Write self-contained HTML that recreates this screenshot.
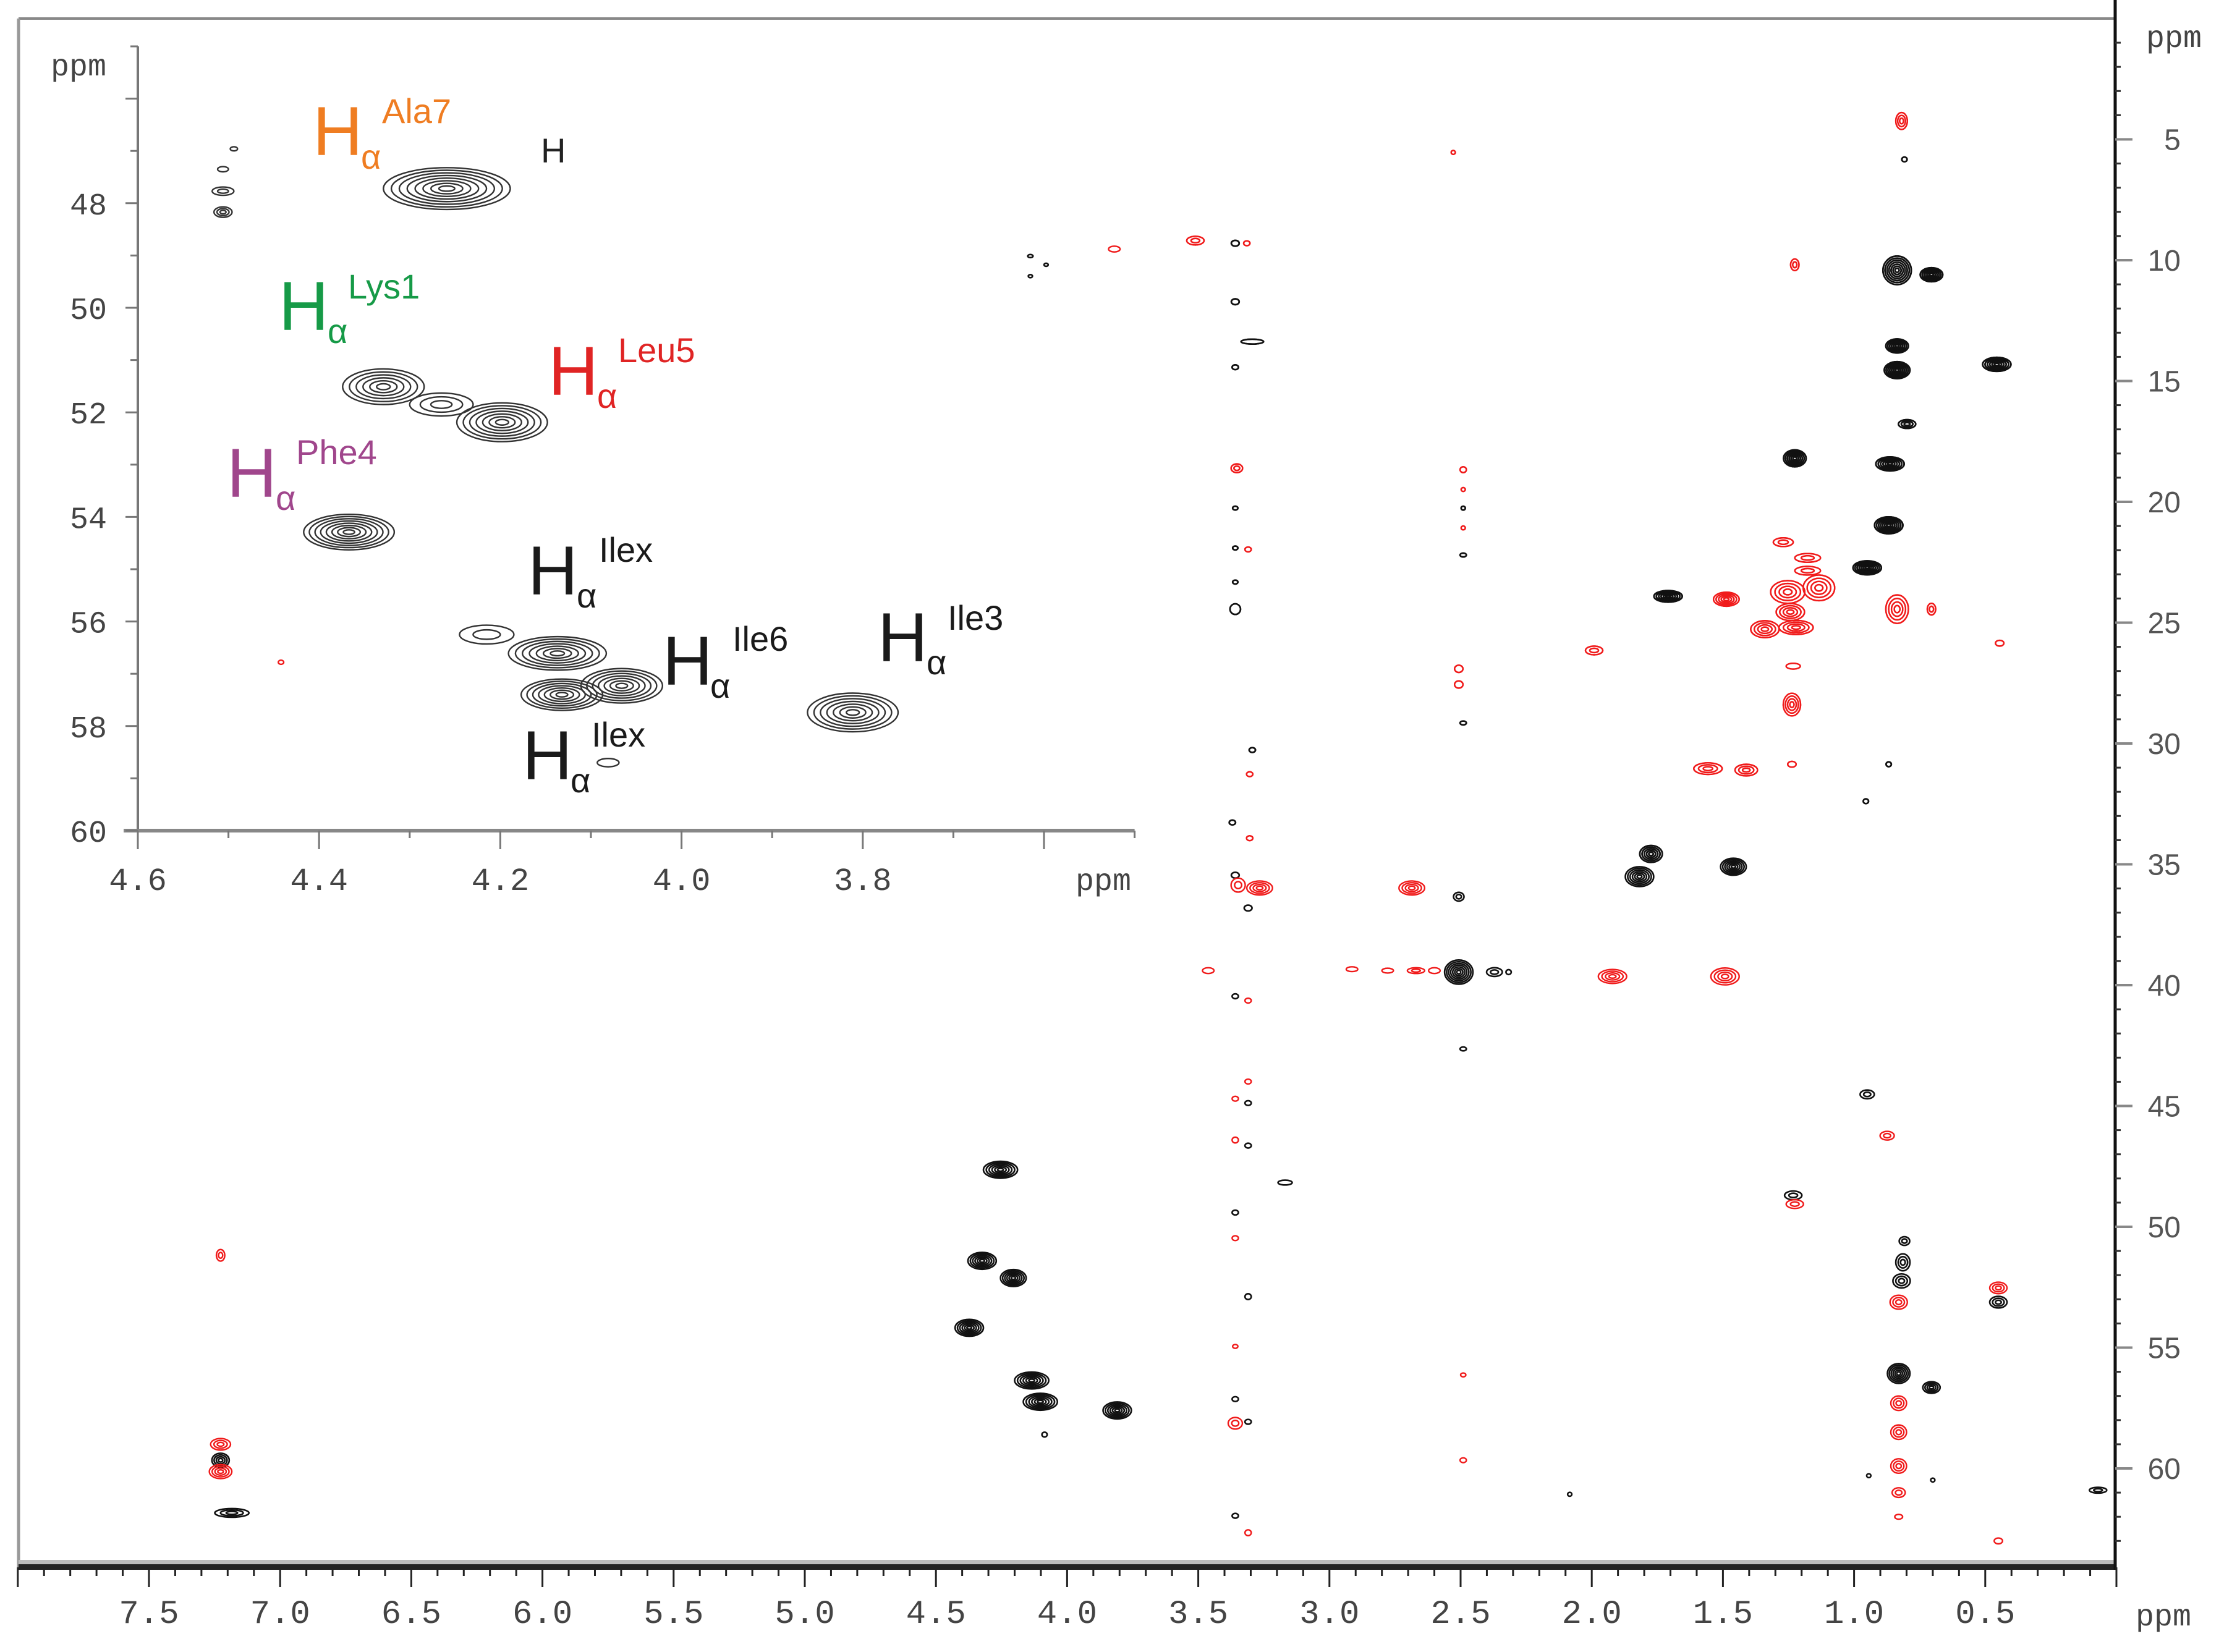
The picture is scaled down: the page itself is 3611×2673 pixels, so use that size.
<!DOCTYPE html>
<html><head><meta charset="utf-8"><style>
html,body{margin:0;padding:0;background:#fff;}
svg{display:block;}
.mono{font-family:"Liberation Mono","DejaVu Sans Mono",monospace;fill:#444;}
.sans{font-family:"Liberation Sans","DejaVu Sans",sans-serif;}
</style></head><body>
<svg id="chart" xmlns="http://www.w3.org/2000/svg" width="3611" height="2673" viewBox="0 0 3611 2673">
<rect width="3611" height="2673" fill="#fff"/>
<g id="main-frame">
<line x1="30" y1="30" x2="3422" y2="30" stroke="#888" stroke-width="4"/>
<line x1="30" y1="30" x2="30" y2="2538" stroke="#999" stroke-width="5"/>
<rect x="30" y="2524" width="3392" height="7" fill="#bbb"/>
<rect x="30" y="2531" width="3394" height="9" fill="#222"/>
<line x1="3422" y1="0" x2="3422" y2="2540" stroke="#111" stroke-width="5"/>
</g>
<g id="peaks-main"></g>
<g id="inset"></g>
<g id="axes"></g>
<g id="inset-labels" class="sans">
<g fill="#ef7d22"><text x="506" y="251" font-size="112">H</text><text x="584" y="273" font-size="56">α</text><text x="618" y="199" font-size="56">Ala7</text></g>
<text x="875" y="263" font-size="56" fill="#222">H</text>
<g fill="#169a47"><text x="451" y="534" font-size="112">H</text><text x="530" y="555" font-size="56">α</text><text x="563" y="483" font-size="56">Lys1</text></g>
<g fill="#e02424"><text x="887" y="639" font-size="112">H</text><text x="966" y="660" font-size="56">α</text><text x="1000" y="586" font-size="56">Leu5</text></g>
<g fill="#a0468c"><text x="367" y="804" font-size="112">H</text><text x="446" y="825" font-size="56">α</text><text x="479" y="751" font-size="56">Phe4</text></g>
<g fill="#1a1a1a"><text x="854" y="962" font-size="112">H</text><text x="933" y="983" font-size="56">α</text><text x="969" y="909" font-size="56">Ilex</text></g>
<g fill="#1a1a1a"><text x="1072" y="1108" font-size="112">H</text><text x="1149" y="1129" font-size="56">α</text><text x="1185" y="1053" font-size="56">Ile6</text></g>
<g fill="#1a1a1a"><text x="1420" y="1070" font-size="112">H</text><text x="1499" y="1091" font-size="56">α</text><text x="1533" y="1019" font-size="56">Ile3</text></g>
<g fill="#1a1a1a"><text x="845" y="1261" font-size="112">H</text><text x="923" y="1282" font-size="56">α</text><text x="957" y="1208" font-size="56">Ilex</text></g>
</g>
</svg>
<script>
// ---- data (ppm) ----
const mainXTicks = [7.5,7.0,6.5,6.0,5.5,5.0,4.5,4.0,3.5,3.0,2.5,2.0,1.5,1.0,0.5];
const mainYTicks = [5,10,15,20,25,30,35,40,45,50,55,60];
const insetXTicks = [4.6,4.4,4.2,4.0,3.8];
const insetYTicks = [48,50,52,54,56,58,60];
// [x ppm (1H), y ppm (13C), width x ppm, width y ppm, contour levels]
const blackPeaks = [
[0.808,5.83,0.01,0.1,1],[0.836,10.42,0.054,0.59,7],[0.705,10.6,0.043,0.29,6],[0.836,13.55,0.043,0.29,6],
[0.836,14.55,0.049,0.35,7],[0.456,14.31,0.054,0.29,6],[0.798,16.78,0.033,0.18,3],[1.226,18.2,0.043,0.35,6],
[0.863,18.43,0.054,0.29,6],[0.868,20.97,0.054,0.35,7],[0.95,22.73,0.054,0.29,7],[1.709,23.91,0.054,0.24,6],
[0.868,30.86,0.01,0.1,1],[0.955,32.39,0.01,0.1,1],[1.774,34.57,0.043,0.35,5],[1.818,35.51,0.054,0.41,6],
[1.46,35.1,0.049,0.35,6],[2.507,36.34,0.02,0.18,2],[2.507,39.46,0.054,0.5,7],[2.371,39.46,0.03,0.18,2],
[2.317,39.46,0.01,0.1,1],[0.95,44.52,0.027,0.18,2],[1.232,48.7,0.033,0.18,2],[0.808,50.59,0.02,0.18,2],
[0.814,51.47,0.027,0.35,3],[0.819,52.24,0.033,0.29,3],[0.45,53.12,0.033,0.24,3],[0.83,56.07,0.043,0.41,6],
[0.705,56.65,0.033,0.24,4],[0.944,60.3,0.008,0.08,1],[0.7,60.48,0.008,0.08,1],[0.07,60.9,0.033,0.12,2],
[2.084,61.07,0.008,0.08,1],[4.254,47.64,0.065,0.35,6],[4.324,51.41,0.054,0.35,6],[4.205,52.12,0.049,0.35,6],
[4.373,54.18,0.054,0.35,6],[4.135,56.36,0.065,0.35,6],[4.102,57.24,0.065,0.35,6],[3.809,57.6,0.054,0.35,6],
[4.086,58.6,0.01,0.1,1],[7.227,59.66,0.033,0.29,4],[7.184,61.84,0.065,0.18,3],
[3.359,9.3,0.015,0.12,1],[3.359,11.72,0.015,0.12,1],[3.294,13.37,0.043,0.1,1],[3.359,14.43,0.012,0.1,1],
[3.359,20.26,0.01,0.08,1],[3.359,21.91,0.01,0.08,1],[3.359,23.32,0.01,0.08,1],[3.359,24.44,0.02,0.22,1],
[3.294,30.27,0.012,0.1,1],[3.37,33.27,0.012,0.1,1],[3.359,35.45,0.015,0.12,1],[3.31,36.81,0.015,0.12,1],
[3.359,40.46,0.012,0.1,1],[3.31,44.88,0.012,0.1,1],[3.31,46.64,0.012,0.1,1],[3.169,48.17,0.027,0.1,1],
[3.359,49.41,0.012,0.1,1],[3.31,52.89,0.012,0.12,1],[3.359,57.13,0.012,0.1,1],[3.31,58.07,0.012,0.1,1],
[3.359,61.96,0.012,0.1,1],[2.49,20.26,0.008,0.08,1],[2.49,22.2,0.012,0.08,1],[2.49,29.15,0.012,0.08,1],
[2.49,42.64,0.012,0.08,1],[4.14,9.83,0.01,0.06,1],[4.08,10.19,0.008,0.06,1],[4.14,10.66,0.008,0.06,1]
];
const redPeaks = [
[0.819,4.24,0.022,0.35,3],[1.226,10.19,0.016,0.24,2],[1.487,24.03,0.049,0.29,5],[1.27,21.67,0.038,0.18,2],
[1.177,22.32,0.049,0.18,2],[1.177,22.85,0.049,0.18,2],[1.253,23.73,0.065,0.47,4],[1.134,23.56,0.06,0.53,4],
[1.243,24.56,0.054,0.35,4],[1.34,25.27,0.054,0.35,4],[1.221,25.2,0.065,0.29,4],[0.836,24.44,0.043,0.59,4],
[0.705,24.44,0.016,0.24,2],[0.445,25.85,0.016,0.12,1],[1.991,26.15,0.033,0.18,2],[1.232,26.8,0.027,0.12,1],
[1.237,28.39,0.033,0.47,4],[1.237,30.86,0.016,0.12,1],[1.557,31.04,0.054,0.24,3],[1.411,31.1,0.043,0.24,3],
[3.266,35.98,0.049,0.29,4],[2.686,35.98,0.049,0.29,4],[1.921,39.64,0.054,0.29,4],[1.492,39.64,0.054,0.35,4],
[3.462,39.4,0.022,0.12,1],[2.914,39.34,0.022,0.1,1],[2.778,39.4,0.022,0.1,1],[2.67,39.4,0.033,0.12,2],
[2.6,39.4,0.022,0.12,1],[0.874,46.23,0.027,0.18,2],[1.226,49.06,0.033,0.18,2],[0.83,53.12,0.033,0.29,3],
[0.45,52.53,0.033,0.24,3],[0.83,57.3,0.03,0.3,3],[0.83,58.5,0.03,0.3,3],[0.83,59.9,0.03,0.3,3],
[0.83,61.0,0.025,0.2,2],[0.83,62.0,0.015,0.1,1],[0.45,63.0,0.016,0.12,1],[7.227,51.18,0.016,0.24,2],
[7.227,59.0,0.038,0.24,3],[7.227,60.13,0.043,0.29,4],[3.511,9.19,0.033,0.18,2],[3.315,9.3,0.012,0.1,1],
[3.353,18.61,0.022,0.18,2],[3.31,21.97,0.012,0.1,1],[3.304,31.27,0.012,0.1,1],[3.304,33.92,0.012,0.1,1],
[3.348,35.86,0.027,0.29,2],[3.31,40.64,0.012,0.1,1],[3.31,43.99,0.012,0.1,1],[3.359,44.7,0.012,0.1,1],
[3.359,46.41,0.012,0.12,1],[3.359,50.47,0.012,0.1,1],[3.359,54.95,0.01,0.08,1],[3.359,58.13,0.027,0.24,2],
[3.31,62.66,0.012,0.12,1],[2.528,5.54,0.008,0.08,1],[2.49,18.67,0.012,0.12,1],[2.49,19.49,0.008,0.08,1],
[2.49,21.08,0.008,0.08,1],[2.507,26.91,0.016,0.15,1],[2.507,27.56,0.016,0.15,1],[2.49,56.13,0.01,0.08,1],
[2.49,59.66,0.012,0.1,1],[3.82,9.54,0.022,0.12,1]
];
const insetPeaks = [
[4.259,47.72,0.07,0.40,8],[4.506,47.77,0.012,0.08,2],[4.506,48.17,0.01,0.1,3],[4.506,47.35,0.006,0.05,1],
[4.494,46.96,0.004,0.04,1],[4.329,51.51,0.045,0.34,6],[4.265,51.85,0.035,0.22,3],[4.198,52.19,0.05,0.37,7],
[4.367,54.29,0.05,0.34,8],[4.137,56.61,0.054,0.32,7],[4.215,56.25,0.03,0.18,2],[4.066,57.23,0.045,0.33,7],
[4.132,57.4,0.045,0.3,7],[3.811,57.74,0.05,0.37,7],[4.081,58.70,0.012,0.08,1]
];
const insetRedPeaks = [[4.442,56.78,0.003,0.04,1]];

// ---- scales ----
const NS = 'http://www.w3.org/2000/svg';
const mx = p => 3424 - 424.4 * p;
const my = p => 30 + 39.1 * p;
const ix = p => 223 + (4.6 - p) * 1466;
const iy = p => 1344 - (60 - p) * 84.6;
function mk(tag, attrs, parent) {
  const e = document.createElementNS(NS, tag);
  for (const k in attrs) e.setAttribute(k, attrs[k]);
  parent.appendChild(e);
  return e;
}
function drawPeak(pk, sx, sy, kx, ky, color, sw, parent, name) {
  const g = mk('g', {}, parent);
  
  
  const cx = sx(pk[0]), cy = sy(pk[1]);
  const RX = Math.max(pk[2] * kx, 3), RY = Math.max(pk[3] * ky, 2.5);
  const n = pk[4];
  for (let i = 1; i <= n; i++) {
    const el = mk('ellipse', {cx: cx, cy: cy, rx: RX * i / n, ry: RY * i / n, fill: 'none', stroke: color, 'stroke-width': sw}, g);
    
    
  }
}

const inset = document.getElementById('inset');
const bg = mk('rect', {x: 100, y: 60, width: 1760, height: 1400, fill: '#fff'}, inset);


const mp = document.getElementById('peaks-main');
blackPeaks.forEach(p => drawPeak(p, mx, my, 424.4, 39.1, '#111', 2.6, mp, 'positive-peak'));
redPeaks.forEach(p => drawPeak(p, mx, my, 424.4, 39.1, '#f01a1a', 2.4, mp, 'negative-peak'));
mp.parentNode.insertBefore(inset, mp.nextSibling);
blackPeaks.filter(p => mx(p[0]) > 1560 && my(p[1]) < 1400).forEach(p => drawPeak(p, mx, my, 424.4, 39.1, '#111', 2.6, inset, 'positive-peak'));
redPeaks.filter(p => mx(p[0]) > 1560 && my(p[1]) < 1400).forEach(p => drawPeak(p, mx, my, 424.4, 39.1, '#f01a1a', 2.4, inset, 'negative-peak'));
insetPeaks.forEach(p => drawPeak(p, ix, iy, 1466, 84.6, '#333', 2.4, inset, 'inset-peak'));
insetRedPeaks.forEach(p => drawPeak(p, ix, iy, 1466, 84.6, '#f01a1a', 2.4, inset, 'inset-negative-peak'));
let a = mk('line', {x1: 223, y1: iy(45), x2: 223, y2: iy(60) + 3, stroke: '#777', 'stroke-width': 4}, inset);
 
a = mk('line', {x1: 200, y1: iy(60), x2: ix(3.5), y2: iy(60), stroke: '#888', 'stroke-width': 6}, inset);
 
for (let v = 45; v <= 60; v++) {
  const t = mk('line', {x1: 223 - (v % 2 === 0 ? 20 : 12), y1: iy(v), x2: 223, y2: iy(v), stroke: '#777', 'stroke-width': 3}, inset);
   
}
for (let k = 0; k <= 11; k++) {
  const v = 4.6 - k * 0.1;
  const t = mk('line', {x1: ix(v), y1: iy(60), x2: ix(v), y2: iy(60) + (k % 2 === 0 ? 30 : 12), stroke: '#777', 'stroke-width': 3}, inset);
   
}
insetYTicks.forEach(v => {
  const t = mk('text', {x: 143, y: iy(v) + 18, 'font-size': 50, 'text-anchor': 'middle', class: 'mono'}, inset);
  t.textContent = String(v);
   
});
insetXTicks.forEach(v => {
  const t = mk('text', {x: ix(v), y: 1440, 'font-size': 52, 'text-anchor': 'middle', class: 'mono'}, inset);
  t.textContent = v.toFixed(1);
   
});
let tt = mk('text', {x: 127, y: 122, 'font-size': 50, 'text-anchor': 'middle', class: 'mono'}, inset);
tt.textContent = 'ppm';
 
tt = mk('text', {x: 1785, y: 1440, 'font-size': 50, 'text-anchor': 'middle', class: 'mono'}, inset);
tt.textContent = 'ppm';
 

const ax = document.getElementById('axes');
for (let k = 0; k <= 80; k++) {
  const v = k * 0.1;
  const major = k % 5 === 0;
  const t = mk('line', {x1: mx(v), y1: 2536, x2: mx(v), y2: 2536 + (major ? 32 : 14), stroke: '#222', 'stroke-width': 3}, ax);
   
}
for (let v = 1; v <= 63; v++) {
  const major = v % 5 === 0;
  const t = mk('line', {x1: 3422, y1: my(v), x2: 3422 + (major ? 28 : 9), y2: my(v), stroke: major ? '#888' : '#333', 'stroke-width': major ? 4 : 3}, ax);
   
}
mainXTicks.forEach(v => {
  const t = mk('text', {x: mx(v), y: 2626, 'font-size': 54, 'text-anchor': 'middle', class: 'mono'}, ax);
  t.textContent = v.toFixed(1);
   
});
mainYTicks.forEach(v => {
  const t = mk('text', {x: 3528, y: my(v) + 17, 'font-size': 48, 'text-anchor': 'end', fill: '#555', class: 'sans'}, ax);
  t.textContent = String(v);
   
});
tt = mk('text', {x: 3517, y: 76, 'font-size': 50, 'text-anchor': 'middle', class: 'mono'}, ax);
tt.textContent = 'ppm';
 
tt = mk('text', {x: 3500, y: 2630, 'font-size': 50, 'text-anchor': 'middle', class: 'mono'}, ax);
tt.textContent = 'ppm';
 
const svg = document.getElementById('chart');
svg.appendChild(document.getElementById('inset-labels'));
</script>
</body></html>
